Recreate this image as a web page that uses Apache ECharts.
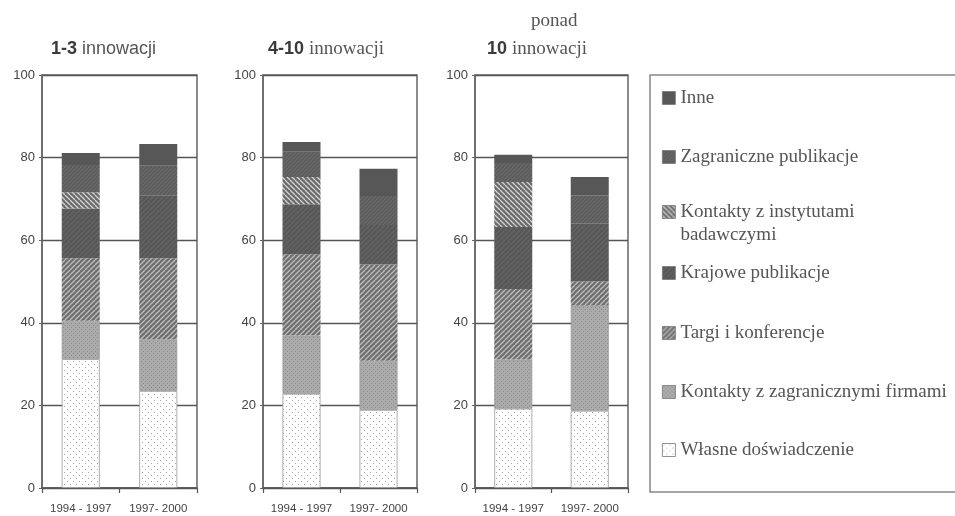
<!DOCTYPE html>
<html>
<head>
<meta charset="utf-8">
<script src="https://cdn.jsdelivr.net/npm/echarts@6/dist/echarts.min.js"></script>
<style>
  html, body { margin: 0; padding: 0; background: #fff; }
  #chart { width: 955px; height: 516px; }
</style>
</head>
<body>
<div id="chart"></div>
<script>
// periods on each small chart
const periods = ["1994 - 1997", "1997- 2000"];
// 3 panels x 2 periods: [1-3 a, 1-3 b, 4-10 a, 4-10 b, >10 a, >10 b]
const wlasne       = [31.2, 23.5, 22.8, 18.9, 19.2, 18.7];
const kontZagr     = [9.3, 12.5, 14.1, 11.9, 11.9, 25.5];
const targi        = [15.1, 19.6, 19.7, 23.3, 17.1, 5.8];
const krajowe      = [12.1, 15.3, 12.1, 9.6, 15.0, 14.0];
const kontInst     = [3.9, 0, 6.6, 0, 10.9, 0];
const zagraniczne  = [6.6, 7.1, 6.1, 7.0, 4.6, 6.9];
const inne         = [2.9, 5.3, 2.4, 6.6, 2.0, 4.4];

const seriesNames = [
  "Własne doświadczenie",
  "Kontakty z zagranicznymi firmami",
  "Targi i konferencje",
  "Krajowe publikacje",
  "Kontakty z instytutami badawczymi",
  "Zagraniczne publikacje",
  "Inne"
];
const seriesValues = [wlasne, kontZagr, targi, krajowe, kontInst, zagraniczne, inne];
// legend goes top-down
const legendOrder = [6, 5, 4, 3, 2, 1, 0];

// layout
const grids = [
  { left: 42, top: 75, width: 155, height: 413 },
  { left: 263, top: 75, width: 154, height: 413 },
  { left: 475, top: 75, width: 153, height: 413 }
];
const legendCenters = [98, 157, 212, 273, 333, 392, 450];

// hatch / dot fills
function pattern(bg, fg, kind, size) {
  const c = document.createElement("canvas");
  c.width = size; c.height = size;
  const ctx = c.getContext("2d");
  ctx.fillStyle = bg;
  ctx.fillRect(0, 0, size, size);
  ctx.strokeStyle = fg;
  ctx.fillStyle = fg;
  ctx.lineWidth = 1.3;
  if (kind === "fwd") {
    for (let k = -1; k <= 1; k++) {
      ctx.beginPath();
      ctx.moveTo(k * size, size);
      ctx.lineTo(k * size + size, 0);
      ctx.stroke();
    }
  } else if (kind === "back") {
    for (let k = -1; k <= 1; k++) {
      ctx.beginPath();
      ctx.moveTo(k * size, 0);
      ctx.lineTo(k * size + size, size);
      ctx.stroke();
    }
  } else if (kind === "dots") {
    ctx.fillRect(1, 1, 1, 1);
    ctx.fillRect(1 + size / 2, 1 + size / 2, 1, 1);
  }
  return { image: c, repeat: "repeat" };
}

const fills = [
  pattern("#ffffff", "#a8a8a8", "dots", 6),   // Własne
  pattern("#ababab", "#8a8a8a", "dots", 4),   // Kontakty zagr.
  pattern("#6e6e6e", "#bdbdbd", "fwd", 5),    // Targi
  pattern("#575757", "#656565", "fwd", 5),    // Krajowe
  pattern("#6a6a6a", "#d2d2d2", "back", 5),   // Kontakty inst.
  pattern("#5b5b5b", "#6a6a6a", "fwd", 4),    // Zagraniczne
  "#575757"                                   // Inne
];
const borders = ["#999", "#999", null, null, null, null, null];

const axisFont = { fontFamily: "Liberation Sans", color: "#444" };

const xAxes = grids.map((g, i) => ({
  type: "category",
  gridIndex: i,
  data: periods,
  axisLine: { show: true, lineStyle: { color: "#555", width: 1.5 } },
  axisTick: { show: true, length: 5, lineStyle: { color: "#555", width: 1.2 } },
  axisLabel: { ...axisFont, fontSize: 11.5, margin: 15, interval: 0 }
}));

const yAxes = grids.map((g, i) => ({
  type: "value",
  gridIndex: i,
  min: 0,
  max: 100,
  interval: 20,
  axisLine: { show: true, lineStyle: { color: "#666", width: 1.5 } },
  axisTick: { show: true, length: 3, lineStyle: { color: "#666" } },
  splitLine: { show: true, lineStyle: { color: "#555", width: 1.3 } },
  axisLabel: { ...axisFont, fontSize: 13, margin: 7 }
}));

const series = [];
grids.forEach((g, p) => {
  seriesNames.forEach((name, s) => {
    const vals = seriesValues[s].slice(p * 2, p * 2 + 2).map(v => (v === 0 ? null : v));
    series.push({
      name: name,
      type: "bar",
      xAxisIndex: p,
      yAxisIndex: p,
      stack: "panel" + p,
      barWidth: 38,
      silent: true,
      itemStyle: borders[s]
        ? { color: fills[s], borderColor: borders[s], borderWidth: 0.8 }
        : { color: fills[s] },
      data: vals
    });
  });
});

const legends = legendOrder.map((s, i) => {
  const name = seriesNames[s];
  const twoLine = name === "Kontakty z instytutami badawczymi";
  return {
    data: [name],
    left: 662,
    // single line item is 23px high; the two-line one gets an empty first line so the icon sits on line 1
    top: legendCenters[i] - (twoLine ? 34.5 : 11.5),
    padding: 0,
    itemWidth: 13,
    itemHeight: 13,
    icon: "rect",
    selectedMode: false,
    itemGap: 0,
    formatter: n => (n === "Kontakty z instytutami badawczymi" ? "\nKontakty z instytutami\nbadawczymi" : n),
    textStyle: {
      fontFamily: "Liberation Serif",
      fontSize: 19,
      color: "#555",
      lineHeight: 23
    },
    itemStyle: { borderColor: "#777", borderWidth: 0.8 }
  };
});

const titleRich = {
  b: { fontFamily: "Liberation Sans", fontWeight: "bold", fontSize: 18, color: "#3a3a3a" },
  s: { fontFamily: "Liberation Sans", fontWeight: "normal", fontSize: 18, color: "#555" },
  r: { fontFamily: "Liberation Serif", fontWeight: "normal", fontSize: 19, color: "#555" }
};
const titleStyle = { fontWeight: "normal", rich: titleRich };

const option = {
  animation: false,
  backgroundColor: "#ffffff",
  title: [
    { text: "{b|1-3} {s|innowacji}", left: 46, top: 35, textStyle: titleStyle },
    { text: "{b|4-10} {r|innowacji}", left: 263, top: 35, textStyle: titleStyle },
    { text: "{r|ponad}", left: 526, top: 7, textStyle: titleStyle },
    { text: "{b|10} {r|innowacji}", left: 482, top: 35, textStyle: titleStyle }
  ],
  grid: grids.map(g => ({
    ...g,
    show: true,
    borderColor: "#666",
    borderWidth: 1.5,
    backgroundColor: "transparent",
    containLabel: false
  })),
  legend: legends,
  xAxis: xAxes,
  yAxis: yAxes,
  graphic: [
    {
      type: "rect",
      shape: { x: 650, y: 75, width: 420, height: 417 },
      style: { fill: "none", stroke: "#888", lineWidth: 1.5 },
      silent: true
    }
  ],
  series: series
};

const myChart = echarts.init(document.getElementById("chart"));
myChart.setOption(option);
</script>
</body>
</html>
